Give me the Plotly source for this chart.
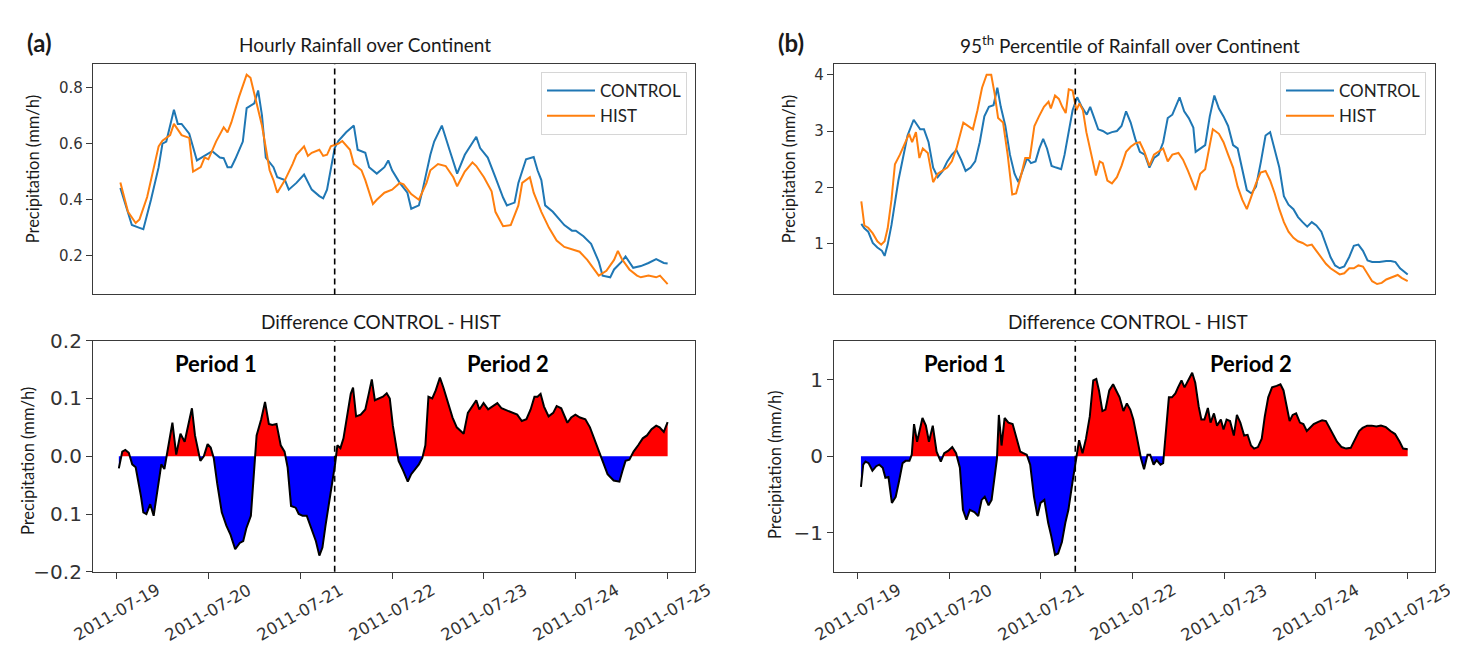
import plotly.graph_objects as go
import pandas as pd

# ---------------- data (hours after 2011-07-19 00:00) ----------------
ctrl_a_hours = [1,4,6,7,9,11,12,13,15,16,17,19,21,23,25,27,28,29,30,31,33,34,36,37,38,39,41,42,44,45,47,49,51,53,54,55,57,58,60,62,63,65,66,68,70,71,72,74,76,77,79,80,82,83,85,87,89,91,94,95,97,99,101,102,104,105,107,109,110,111,112,114,115,117,119,120,122,124,126,127,129,130,132,133,135,137,139,141,143,144]
ctrl_a_vals = [0.442,0.31,0.30,0.295,0.40,0.516,0.60,0.607,0.72,0.67,0.67,0.635,0.54,0.556,0.573,0.55,0.548,0.516,0.516,0.544,0.607,0.726,0.743,0.789,0.70,0.55,0.516,0.48,0.47,0.436,0.46,0.49,0.436,0.413,0.405,0.436,0.584,0.61,0.64,0.664,0.578,0.567,0.516,0.493,0.516,0.54,0.505,0.46,0.425,0.368,0.38,0.436,0.56,0.607,0.664,0.578,0.493,0.56,0.624,0.584,0.55,0.48,0.408,0.38,0.39,0.46,0.544,0.552,0.505,0.47,0.38,0.357,0.34,0.31,0.29,0.29,0.27,0.243,0.18,0.13,0.124,0.152,0.18,0.198,0.158,0.164,0.175,0.189,0.175,0.173]

hist_a_hours = [1,3,5,6,8,9,11,12,14,15,17,19,20,22,23,24,26,28,29,30,32,34,35,36,38,40,41,42,44,46,47,49,50,51,53,54,55,56,58,59,61,62,64,65,67,68,70,72,74,75,77,79,80,81,82,84,86,88,89,91,93,94,96,98,99,101,103,105,106,108,109,111,113,115,117,119,121,123,125,126,128,130,131,132,134,136,137,139,141,142,144]
hist_a_vals = [0.461,0.357,0.317,0.33,0.41,0.47,0.59,0.61,0.63,0.67,0.63,0.62,0.50,0.516,0.55,0.544,0.607,0.658,0.64,0.675,0.766,0.845,0.834,0.777,0.664,0.505,0.47,0.425,0.47,0.527,0.56,0.59,0.556,0.567,0.578,0.556,0.56,0.59,0.60,0.609,0.578,0.527,0.505,0.47,0.385,0.40,0.425,0.436,0.46,0.455,0.42,0.40,0.43,0.46,0.505,0.527,0.52,0.48,0.448,0.50,0.533,0.52,0.48,0.43,0.357,0.306,0.31,0.38,0.46,0.48,0.425,0.357,0.30,0.255,0.232,0.223,0.215,0.186,0.147,0.13,0.147,0.186,0.218,0.19,0.152,0.13,0.124,0.13,0.124,0.13,0.10]

diff_a_hours = [0.6,1.5,2.3,3.2,4.1,5.0,6.4,7.0,7.8,8.8,9.7,10.5,11.7,12.5,13.5,14.6,15.6,16.7,17.8,18.7,19.7,20.5,21.9,22.8,23.8,24.6,25.4,26.3,27.5,28.7,29.8,31.0,32.2,33.1,33.9,35.1,35.9,36.6,37.8,38.8,39.8,40.7,41.8,42.9,43.9,44.7,45.6,46.8,47.6,48.6,49.7,50.9,52.1,53.0,53.8,54.6,55.6,56.5,57.1,57.7,58.5,59.3,60.3,61.2,61.8,62.6,63.8,65.0,65.9,66.7,67.5,68.7,69.6,70.6,71.4,72.2,72.9,73.7,74.9,76.1,77.0,78.0,79.0,79.9,80.7,81.5,82.5,83.4,84.5,85.4,86.6,87.8,88.9,90.7,91.8,93.0,94.0,94.8,95.9,97.1,98.3,99.5,100.6,102.1,103.5,104.7,105.9,107.1,108.2,109.2,110.0,110.8,111.7,112.9,114.1,115.0,116.2,117.0,117.8,118.8,119.9,121.1,122.5,123.7,124.8,126.0,127.2,128.3,129.9,131.4,132.2,133.0,134.0,135.1,136.3,137.5,138.6,139.8,141.0,141.9,143.0,144.0]
diff_a_vals = [-0.021,0.008,0.011,0.006,-0.014,-0.019,-0.07,-0.097,-0.10,-0.083,-0.103,-0.07,-0.014,-0.022,0.019,0.058,0.003,0.039,0.025,0.05,0.083,0.036,-0.008,0.0,0.021,0.015,-0.003,-0.047,-0.097,-0.12,-0.136,-0.161,-0.15,-0.147,-0.125,-0.103,-0.036,0.036,0.064,0.094,0.056,0.054,0.056,0.019,0.008,-0.019,-0.086,-0.089,-0.10,-0.103,-0.103,-0.125,-0.147,-0.172,-0.158,-0.12,-0.08,-0.042,-0.014,0.019,0.014,0.031,0.069,0.108,0.119,0.069,0.072,0.081,0.108,0.133,0.097,0.10,0.103,0.109,0.10,0.053,0.025,-0.008,-0.025,-0.044,-0.031,-0.022,-0.014,-0.003,0.019,0.103,0.10,0.114,0.136,0.119,0.092,0.067,0.05,0.039,0.075,0.086,0.097,0.081,0.092,0.081,0.087,0.092,0.083,0.079,0.075,0.072,0.061,0.064,0.081,0.103,0.103,0.108,0.086,0.069,0.075,0.087,0.083,0.069,0.058,0.067,0.072,0.067,0.064,0.05,0.031,0.008,-0.014,-0.031,-0.042,-0.044,-0.025,-0.008,-0.006,0.008,0.019,0.031,0.036,0.047,0.053,0.05,0.042,0.059]

ctrl_b_hours = [1.0,1.8,2.8,4.0,5.2,6.4,7.1,7.9,8.9,9.9,10.7,11.9,13.1,14.7,15.6,16.4,17.4,18.6,19.8,21.0,22.3,23.5,24.7,25.9,27.1,28.3,29.6,30.8,32.0,33.2,34.4,35.6,36.6,37.5,38.7,39.9,41.1,42.1,43.2,44.4,45.4,46.6,47.6,48.6,49.6,50.8,52.0,53.3,54.2,55.3,56.3,57.5,58.7,60.0,60.9,61.8,63.0,64.2,65.4,66.6,67.9,69.1,70.3,71.5,72.7,73.9,75.2,76.4,77.6,78.8,80.0,81.2,82.4,84.3,85.5,86.7,87.9,88.5,89.7,91.0,92.2,93.4,94.6,95.8,97.0,98.3,99.5,100.7,101.9,103.1,104.3,105.6,106.8,108.0,109.2,110.4,111.6,112.8,114.1,115.3,116.5,117.7,118.9,120.1,121.4,122.6,123.8,125.0,126.2,127.4,128.7,129.9,131.1,132.3,133.5,134.7,136.6,138.4,139.6,140.8,142.0,144.0]
ctrl_b_vals = [1.35,1.27,1.21,1.01,0.93,0.87,0.78,0.98,1.33,1.78,2.12,2.52,2.92,3.20,3.12,3.03,3.03,2.80,2.35,2.18,2.29,2.46,2.58,2.66,2.49,2.29,2.35,2.46,2.80,3.26,3.43,3.46,3.77,3.43,3.09,2.58,2.24,2.09,2.29,2.52,2.43,2.46,2.69,2.86,2.69,2.38,2.35,2.32,2.58,3.03,3.37,3.60,3.43,3.29,3.43,3.26,3.03,3.00,2.95,2.98,3.00,3.09,3.35,3.15,2.86,2.63,2.58,2.35,2.52,2.58,2.80,3.23,3.29,3.60,3.35,3.23,3.06,2.63,2.69,2.75,3.26,3.63,3.40,3.26,3.09,2.75,2.69,2.29,1.95,1.89,2.01,2.46,2.92,2.98,2.69,2.35,1.84,1.69,1.61,1.47,1.38,1.30,1.38,1.32,1.21,0.98,0.76,0.61,0.56,0.59,0.76,0.96,0.98,0.87,0.70,0.67,0.67,0.69,0.69,0.67,0.56,0.45]

hist_b_hours = [1.0,1.8,2.8,4.0,5.2,6.2,7.1,7.9,8.9,9.8,11.1,12.3,13.5,14.3,15.3,16.2,17.1,18.4,19.8,21.0,22.3,23.5,24.7,25.9,27.7,28.9,30.2,31.4,32.6,33.8,35.0,35.9,36.8,38.1,39.3,40.5,41.5,42.7,43.9,45.1,46.3,47.5,48.8,50.0,50.6,51.7,52.7,53.6,54.5,55.3,56.3,57.3,58.1,59.0,59.9,61.2,62.4,63.4,64.2,65.4,66.6,67.9,69.1,70.3,71.5,72.7,73.9,75.1,76.4,77.6,78.8,80.0,81.2,82.4,84.0,85.2,86.5,87.7,88.5,89.7,91.0,92.2,93.0,94.6,95.8,97.0,98.3,99.5,100.7,101.9,103.1,104.3,105.5,106.8,108.0,109.2,110.4,111.6,112.8,114.1,115.3,116.5,117.7,118.9,120.1,121.4,122.6,123.8,125.0,126.2,127.4,128.7,129.9,131.1,132.3,133.5,134.7,136.0,137.2,138.4,140.2,141.4,142.4,144.0]
hist_b_vals = [1.75,1.32,1.28,1.18,1.04,0.98,1.04,1.27,1.78,2.41,2.58,2.75,2.95,2.80,2.98,2.52,2.69,2.61,2.09,2.24,2.29,2.35,2.46,2.69,3.15,3.09,3.03,3.37,3.77,4.00,4.00,3.66,3.23,3.15,2.58,1.87,1.89,2.18,2.52,2.52,3.09,3.26,3.43,3.52,3.40,3.63,3.57,3.43,3.32,3.74,3.72,3.37,3.49,3.37,2.98,2.58,2.21,2.46,2.43,2.12,2.07,2.18,2.38,2.63,2.72,2.78,2.80,2.63,2.38,2.58,2.63,2.69,2.46,2.58,2.61,2.49,2.29,2.07,1.95,2.24,2.32,2.75,3.03,2.95,2.80,2.58,2.35,2.01,1.78,1.61,1.84,2.07,2.26,2.29,2.12,1.89,1.61,1.38,1.21,1.10,1.04,1.01,0.96,0.98,0.87,0.76,0.64,0.56,0.50,0.45,0.47,0.56,0.56,0.61,0.59,0.47,0.33,0.28,0.30,0.36,0.41,0.44,0.39,0.33]

diff_b_hours = [0.9,1.5,2.1,2.9,3.9,4.9,5.7,6.6,7.3,8.1,9.0,10.0,10.9,11.8,12.6,13.6,14.2,14.8,15.6,16.3,17.0,17.9,18.7,19.7,20.7,21.8,22.7,23.7,24.8,25.8,26.8,27.6,28.5,29.4,30.6,31.6,32.5,33.3,34.3,35.1,35.9,36.5,37.0,37.7,38.5,39.5,40.6,41.6,42.6,43.4,44.3,45.2,46.2,47.1,47.9,48.9,49.9,50.7,51.7,52.5,53.5,54.4,55.2,56.2,57.2,58.0,58.9,59.8,60.8,61.7,62.5,63.2,64.1,64.9,65.9,66.9,67.7,68.6,69.6,70.5,71.4,72.2,73.2,74.2,75.0,75.9,76.6,77.5,78.3,79.3,80.0,80.7,81.5,82.3,83.2,83.9,84.8,85.6,86.6,87.6,88.4,89.3,90.0,90.8,91.7,92.4,93.3,94.1,95.1,95.8,96.6,97.5,98.5,99.3,100.2,101.2,102.1,103.0,103.8,104.8,105.8,106.6,107.5,108.5,109.7,110.7,111.5,112.4,113.1,113.9,114.8,115.8,116.7,117.6,118.4,119.4,120.6,121.6,122.6,123.5,124.5,125.5,126.7,127.9,129.1,130.4,131.3,132.2,133.4,134.6,135.8,137.0,138.3,139.5,140.7,141.9,142.8,144.0]
diff_b_vals = [-0.40,-0.11,-0.07,-0.09,-0.19,-0.13,-0.11,-0.15,-0.28,-0.27,-0.61,-0.53,-0.32,-0.09,-0.06,-0.06,0.02,0.42,0.19,0.35,0.50,0.40,0.19,0.40,0.06,-0.07,0.04,0.07,0.12,0.04,-0.15,-0.70,-0.83,-0.70,-0.73,-0.78,-0.57,-0.53,-0.64,-0.57,-0.28,-0.03,0.54,0.14,0.50,0.44,0.42,0.23,0.06,0.04,0.02,-0.11,-0.53,-0.78,-0.61,-0.57,-0.87,-1.04,-1.29,-1.27,-1.12,-0.87,-0.70,-0.36,-0.07,0.21,0.04,0.23,0.52,0.99,1.01,0.86,0.59,0.61,0.86,0.94,0.86,0.77,0.59,0.69,0.61,0.48,0.23,-0.03,-0.17,0.02,0.02,-0.11,-0.05,-0.11,-0.09,0.31,0.77,0.77,0.82,0.90,0.99,0.90,0.99,1.09,0.96,0.65,0.48,0.48,0.63,0.44,0.56,0.40,0.48,0.35,0.48,0.46,0.27,0.54,0.44,0.27,0.28,0.14,0.10,0.12,0.23,0.52,0.77,0.90,0.92,0.94,0.86,0.65,0.46,0.54,0.56,0.44,0.42,0.33,0.37,0.42,0.45,0.47,0.46,0.37,0.27,0.19,0.12,0.10,0.11,0.23,0.33,0.37,0.40,0.40,0.39,0.40,0.38,0.33,0.29,0.19,0.10,0.09]

split_hour = 57          # boundary between Period 1 and Period 2
tick_dates = ["2011-07-19","2011-07-20","2011-07-21","2011-07-22","2011-07-23","2011-07-24","2011-07-25"]
series_names = ["CONTROL", "HIST"]
period_labels = ["Period 1", "Period 2"]

# ---------------- helpers ----------------
W, H = 1458, 649
BASE = pd.Timestamp("2011-07-19")
def T(hours):
    return [BASE + pd.Timedelta(hours=float(h)) for h in hours]

def px_x(p): return p / W
def px_y(p): return 1 - p / H

def with_crossings(hours, vals):
    xs, ys = [], []
    for i in range(len(hours)):
        if i > 0:
            v0, v1 = vals[i - 1], vals[i]
            if v0 * v1 < 0:
                h0, h1 = hours[i - 1], hours[i]
                xs.append(h0 + (h1 - h0) * v0 / (v0 - v1)); ys.append(0.0)
        xs.append(hours[i]); ys.append(vals[i])
    return xs, ys

C_BLUE, C_ORANGE = "#1f77b4", "#ff7f0e"
AX = "#3a3a3a"
TITLE_FONT = "Lato, 'Source Sans Pro', sans-serif"
TICK_FONT = "DejaVu Sans, sans-serif"

fig = go.Figure()

def add_lines(xa, ya, ch, cv, hh, hv, legend):
    fig.add_trace(go.Scatter(x=T(ch), y=cv, mode="lines", name=series_names[0],
                             line=dict(color=C_BLUE, width=2), xaxis=xa, yaxis=ya, legend=legend))
    fig.add_trace(go.Scatter(x=T(hh), y=hv, mode="lines", name=series_names[1],
                             line=dict(color=C_ORANGE, width=2), xaxis=xa, yaxis=ya, legend=legend))

def add_diff(xa, ya, dh, dv):
    xs, ys = with_crossings(dh, dv)
    pos = [max(v, 0.0) for v in ys]
    neg = [min(v, 0.0) for v in ys]
    fig.add_trace(go.Scatter(x=T(xs), y=pos, mode="lines", fill="tozeroy", fillcolor="#ff0000",
                             line=dict(width=0, color="rgba(0,0,0,0)"), showlegend=False,
                             xaxis=xa, yaxis=ya, hoverinfo="skip"))
    fig.add_trace(go.Scatter(x=T(xs), y=neg, mode="lines", fill="tozeroy", fillcolor="#0000ff",
                             line=dict(width=0, color="rgba(0,0,0,0)"), showlegend=False,
                             xaxis=xa, yaxis=ya, hoverinfo="skip"))
    fig.add_trace(go.Scatter(x=T(dh), y=dv, mode="lines", line=dict(color="black", width=2),
                             showlegend=False, xaxis=xa, yaxis=ya))

add_lines("x", "y", ctrl_a_hours, ctrl_a_vals, hist_a_hours, hist_a_vals, "legend")
add_diff("x2", "y2", diff_a_hours, diff_a_vals)
add_lines("x3", "y3", ctrl_b_hours, ctrl_b_vals, hist_b_hours, hist_b_vals, "legend2")
add_diff("x4", "y4", diff_b_hours, diff_b_vals)

xr = [BASE + pd.Timedelta(hours=-6.15), BASE + pd.Timedelta(hours=151.15)]
common_x = dict(range=xr, showgrid=False, zeroline=False, showline=True, mirror=True,
                linecolor=AX, linewidth=1.2, type="date")
common_y = dict(showgrid=False, zeroline=False, showline=True, mirror=True, linecolor=AX,
                linewidth=1.2, ticks="outside", ticklen=6, tickcolor=AX, tickwidth=1.2)

top_dom = [px_y(285), px_y(46)]
bot_dom = [px_y(573), px_y(333)]
a_dom = [px_x(85), px_x(687)]
b_dom = [px_x(826), px_x(1427)]

legend_common = dict(xanchor="right", yanchor="top", bgcolor="white", bordercolor="#d6d6d6",
                     borderwidth=1, font=dict(family=TITLE_FONT, size=17, color="#222"),
                     tracegroupgap=0, itemwidth=48)

fig.update_layout(
    xaxis=dict(domain=a_dom, anchor="y", showticklabels=False, ticks="", **common_x),
    yaxis=dict(domain=top_dom, anchor="x", range=[0.063, 0.882], tickvals=[0.2, 0.4, 0.6, 0.8],
               ticktext=["0.2", "0.4", "0.6", "0.8"], tickfont=dict(family=TICK_FONT, size=15, color="#333"),
               **common_y),
    xaxis2=dict(domain=a_dom, anchor="y2", tickvals=tick_dates, showticklabels=False, ticks="outside",
                ticklen=6, tickcolor=AX, tickwidth=1.2, **common_x),
    yaxis2=dict(domain=bot_dom, anchor="x2", range=[-0.2, 0.2], tickvals=[-0.2, -0.1, 0, 0.1, 0.2],
                ticktext=["\u22120.2", "0.1", "0.0", "0.1", "0.2"],
                tickfont=dict(family=TICK_FONT, size=20, color="#333"), **common_y),
    xaxis3=dict(domain=b_dom, anchor="y3", showticklabels=False, ticks="", **common_x),
    yaxis3=dict(domain=top_dom, anchor="x3", range=[0.094, 4.186], tickvals=[1, 2, 3, 4],
                tickfont=dict(family=TICK_FONT, size=15, color="#333"), **common_y),
    xaxis4=dict(domain=b_dom, anchor="y4", tickvals=tick_dates, showticklabels=False, ticks="outside",
                ticklen=6, tickcolor=AX, tickwidth=1.2, **common_x),
    yaxis4=dict(domain=bot_dom, anchor="x4", range=[-1.51, 1.51], tickvals=[-1, 0, 1],
                ticktext=["\u22121", "0", "1"], tickfont=dict(family=TICK_FONT, size=20, color="#333"),
                **common_y),
    width=W, height=H, autosize=False, margin=dict(l=0, r=0, t=0, b=0),
    plot_bgcolor="white", paper_bgcolor="white",
    legend=dict(x=px_x(679), y=px_y(54), **legend_common),
    legend2=dict(x=px_x(1418), y=px_y(54), **legend_common),
    showlegend=True,
)

# dashed split lines
split_t = BASE + pd.Timedelta(hours=split_hour)
for xa, ya in [("x", "y"), ("x2", "y2"), ("x3", "y3"), ("x4", "y4")]:
    fig.add_shape(type="line", xref=xa, yref=f"{ya} domain", x0=split_t, x1=split_t, y0=0, y1=1,
                  line=dict(color="black", width=1.6, dash="6px,4px"))

ann = []
def text(x, y, s, size, family=TITLE_FONT, angle=0, color="#1a1a1a", xref="paper", yref="paper"):
    ann.append(dict(x=x, y=y, xref=xref, yref=yref, text=s, showarrow=False, textangle=angle,
                    font=dict(family=family, size=size, color=color), xanchor="center", yanchor="middle"))

# panel labels and titles
text(px_x(32), px_y(23), "<b>(a)</b>", 24)
text(px_x(783), px_y(23), "<b>(b)</b>", 24)
text(px_x(357), px_y(25), "Hourly Rainfall over Continent", 19)
text(px_x(1122), px_y(25), "95<sup>th</sup> Percentile of Rainfall over Continent", 19)
text(px_x(373), px_y(313), "Difference CONTROL - HIST", 19)
text(px_x(1120), px_y(313), "Difference CONTROL - HIST", 19)
# y-axis titles
text(px_x(25), px_y(155), "Precipitation (mm/h)", 16.5, angle=-90)
text(px_x(20), px_y(458), "Precipitation (mm/h)", 16.5, angle=-90)
text(px_x(781), px_y(155), "Precipitation (mm/h)", 16.5, angle=-90)
text(px_x(767), px_y(462), "Precipitation (mm/h)", 16.5, angle=-90)
# period labels
text(0.204, 0.9, "<b>" + period_labels[0] + "</b>", 22, xref="x2 domain", yref="y2 domain", color="black")
text(0.69, 0.9, "<b>" + period_labels[1] + "</b>", 22, xref="x2 domain", yref="y2 domain", color="black")
text(0.218, 0.9, "<b>" + period_labels[0] + "</b>", 22, xref="x4 domain", yref="y4 domain", color="black")
text(0.694, 0.9, "<b>" + period_labels[1] + "</b>", 22, xref="x4 domain", yref="y4 domain", color="black")
# rotated date tick labels
for xa in ["x2", "x4"]:
    for d in tick_dates:
        text(d, px_y(615), d, 16.5, family=TICK_FONT, angle=-30, color="#333", xref=xa)

fig.update_layout(annotations=ann)
fig.write_html("out.html")
